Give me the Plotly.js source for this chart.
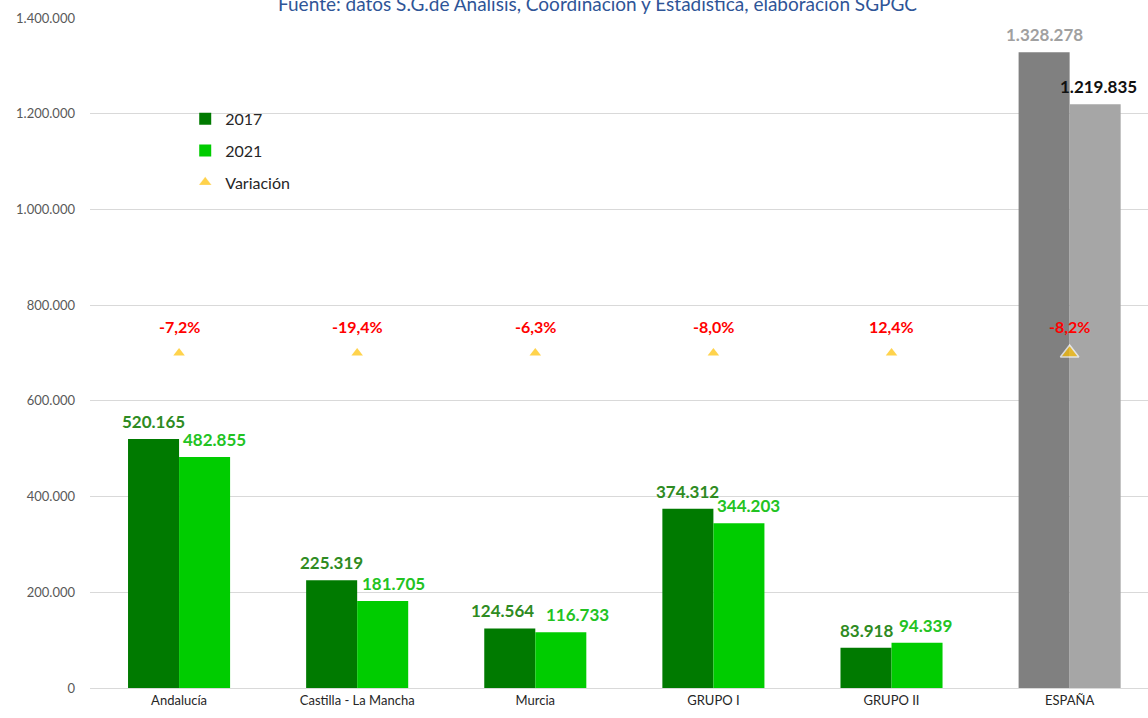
<!DOCTYPE html>
<html>
<head>
<meta charset="utf-8">
<script src="https://cdn.plot.ly/plotly-3.0.1.min.js"></script>
<style>html,body{margin:0;padding:0;background:#fff;}#chart{width:1148px;height:718px;}</style>
</head>
<body>
<div id="chart"></div>
<script>
const categories = ["Andalucía", "Castilla - La Mancha", "Murcia", "GRUPO I", "GRUPO II", "ESPAÑA"];
const values2017 = [520165, 225319, 124564, 374312, 83918, 1328278];
const values2021 = [482855, 181705, 116733, 344203, 94339, 1219835];
const variationPct = ["-7,2%", "-19,4%", "-6,3%", "-8,0%", "12,4%", "-8,2%"];
const variationLevel = [700000, 700000, 700000, 700000, 700000, 700000];
const sourceNote = "Fuente: datos S.G.de Análisis, Coordinación y Estadística, elaboración SGPGC";

// styling
const col2017 = ["#007A00", "#007A00", "#007A00", "#007A00", "#007A00", "#808080"];
const col2021 = ["#00CC00", "#00CC00", "#00CC00", "#00CC00", "#00CC00", "#A6A6A6"];
const lbl2017 = ["#2E8B22", "#2E8B22", "#2E8B22", "#2E8B22", "#2E8B22", "#A0A0A0"];
const lbl2021 = ["#22C322", "#22C322", "#22C322", "#22C322", "#22C322", "#111111"];
const nudge2017 = [0, 0, -7, 0, 0, 0];
const nudge2021 = [10, 11, 17, 10, 8, 3];
const FONT = "Lato, 'Open Sans', sans-serif";
const HALF_BAR = 25.5;

const fmt = v => Math.round(v).toString().replace(/\B(?=(\d{3})+(?!\d))/g, ".");

const traces = [
  {
    type: "bar", name: "2017", legendgroup: "a", x: categories, y: values2017,
    marker: {color: col2017}, hoverinfo: "y"
  },
  {
    type: "bar", name: "2021", legendgroup: "b", x: categories, y: values2021,
    marker: {color: col2021}, hoverinfo: "y"
  },
  {
    type: "scatter", mode: "markers", name: "Variación", legendgroup: "c", x: categories, y: variationLevel,
    marker: {symbol: "triangle-up", color: "#FFC000", size: [10,10,10,10,10,16],
             line: {color: "#FFFFFF", width: [0,0,0,0,0,1.5]}},
    cliponaxis: false
  }
];

const varAnnotations = categories.map((c, i) => ({
  x: c, y: variationLevel[i], xref: "x", yref: "y", text: variationPct[i],
  showarrow: false, yanchor: "bottom", yshift: 15,
  font: {family: FONT, size: 16, color: "#FF0000", weight: "bold"}
}));
const lab2017 = categories.map((c, i) => ({
  x: c, y: values2017[i], xref: "x", yref: "y", text: fmt(values2017[i]),
  showarrow: false, yanchor: "bottom", yshift: 5, xshift: -HALF_BAR + nudge2017[i],
  font: {family: FONT, size: 17, color: lbl2017[i], weight: "bold"}
}));
const lab2021 = categories.map((c, i) => ({
  x: c, y: values2021[i], xref: "x", yref: "y", text: fmt(values2021[i]),
  showarrow: false, yanchor: "bottom", yshift: 5, xshift: HALF_BAR + nudge2021[i],
  font: {family: FONT, size: 17, color: lbl2021[i], weight: "bold"}
}));

const layout = {
  width: 1148, height: 718,
  margin: {l: 90, r: 0, t: 18, b: 30},
  paper_bgcolor: "#FFFFFF", plot_bgcolor: "#FFFFFF",
  separators: ",.",
  font: {family: FONT, size: 13, color: "#595959"},
  barmode: "group", bargap: 0.427, bargroupgap: 0,
  showlegend: true,
  legend: {x: 0.09, y: 0.875, xanchor: "left", yanchor: "top",
           traceorder: "grouped", tracegroupgap: 8,
           font: {family: FONT, size: 16, color: "#262626"},
           bgcolor: "rgba(0,0,0,0)"},
  xaxis: {
    range: [-0.5, 5.44], showgrid: false, ticks: "",
    showline: true, linecolor: "#D9D9D9", linewidth: 1,
    tickfont: {family: FONT, size: 13, color: "#262626"}
  },
  yaxis: {
    range: [0, 1400000], dtick: 200000, tickformat: ",d",
    showgrid: true, gridcolor: "#D9D9D9", gridwidth: 1,
    zeroline: true, zerolinecolor: "#D9D9D9",
    ticks: "", ticklabelstandoff: 14,
    tickfont: {family: FONT, size: 13, color: "#595959"}
  },
  annotations: [{
    text: sourceNote, xref: "paper", yref: "paper", x: 0.48, y: 1.022,
    xanchor: "center", yanchor: "middle", showarrow: false,
    font: {family: FONT, size: 19, color: "#2F5597"}
  }].concat(varAnnotations, lab2017, lab2021)
};

Plotly.newPlot("chart", traces, layout, {displayModeBar: false, staticPlot: true});
</script>
</body>
</html>
